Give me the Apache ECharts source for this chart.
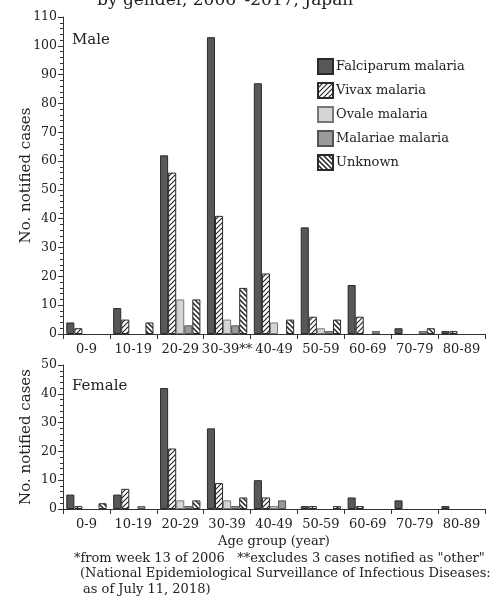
<!DOCTYPE html>
<html><head><meta charset="utf-8">
<script src="https://cdn.jsdelivr.net/npm/echarts@6/dist/echarts.min.js"></script>
<style>html,body{margin:0;padding:0;background:#fff}#c{width:496px;height:603px}</style>
</head><body><div id="c"></div>
<script>
const categories = ['0-9','10-19','20-29','30-39','40-49','50-59','60-69','70-79','80-89'];
const maleTickLabels = ['0-9','10-19','20-29','30-39**','40-49','50-59','60-69','70-79','80-89'];
const femaleTickLabels = ['0-9','10-19','20-29','30-39','40-49','50-59','60-69','70-79','80-89'];
const seriesNames = ['Falciparum malaria','Vivax malaria','Ovale malaria','Malariae malaria','Unknown'];

const maleFalciparum = [4, 9, 62, 103, 87, 37, 17, 2, 1];
const maleVivax      = [2, 5, 56, 41, 21, 6, 6, 0, 1];
const maleOvale      = [0, 0, 12, 5, 4, 2, 0, 0, 0];
const maleMalariae   = [0, 0, 3, 3, 0, 1, 1, 1, 0];
const maleUnknown    = [0, 4, 12, 16, 5, 5, 0, 2, 0];

const femaleFalciparum = [5, 5, 42, 28, 10, 1, 4, 3, 1];
const femaleVivax      = [1, 7, 21, 9, 4, 1, 1, 0, 0];
const femaleOvale      = [0, 0, 3, 3, 1, 0, 0, 0, 0];
const femaleMalariae   = [0, 1, 1, 1, 3, 0, 0, 0, 0];
const femaleUnknown    = [2, 0, 3, 4, 0, 1, 0, 0, 0];

const maleYTicks = {min: 0, max: 110, interval: 10};
const femaleYTicks = {min: 0, max: 50, interval: 10};

const FONT = 'DejaVu Serif';
const TXT = '#222';

function hatch(back, lw) {
  const s = 5;
  const c = document.createElement('canvas');
  c.width = s; c.height = s;
  const g = c.getContext('2d');
  g.fillStyle = '#fff'; g.fillRect(0,0,s,s);
  g.strokeStyle = '#222'; g.lineWidth = lw;
  g.beginPath();
  if (!back) {
    g.moveTo(-1, s+1); g.lineTo(s+1, -1);
    g.moveTo(-1, 1); g.lineTo(1, -1);
    g.moveTo(s-1, s+1); g.lineTo(s+1, s-1);
  } else {
    g.moveTo(-1, -1); g.lineTo(s+1, s+1);
    g.moveTo(s-1, -1); g.lineTo(s+1, 1);
    g.moveTo(-1, s-1); g.lineTo(1, s+1);
  }
  g.stroke();
  return {image: c, repeat: 'repeat'};
}

const styles = [
  {color: '#58585a', borderColor: '#2a2a2a', borderWidth: 1},
  {color: hatch(false, 1.1), borderColor: '#2a2a2a', borderWidth: 1},
  {color: '#d5d5d5', borderColor: '#777', borderWidth: 1},
  {color: '#9a9a9a', borderColor: '#555', borderWidth: 1},
  {color: hatch(true, 1.5), borderColor: '#2a2a2a', borderWidth: 1}
];

const maleData = [maleFalciparum, maleVivax, maleOvale, maleMalariae, maleUnknown];
const femaleData = [femaleFalciparum, femaleVivax, femaleOvale, femaleMalariae, femaleUnknown];
const noZero = arr => arr.map(v => (v === 0 ? null : v));

const series = [];
seriesNames.forEach((n, i) => {
  series.push({name: n, type: 'bar', xAxisIndex: 0, yAxisIndex: 0, data: noZero(maleData[i]),
    barGap: '0%', barCategoryGap: '14%', itemStyle: styles[i], silent: true});
});
seriesNames.forEach((n, i) => {
  series.push({name: n, type: 'bar', xAxisIndex: 1, yAxisIndex: 1, data: noZero(femaleData[i]),
    barGap: '0%', barCategoryGap: '14%', itemStyle: styles[i], silent: true});
});

const axisLine = {show: true, lineStyle: {color: '#333', width: 1}};
function xAxis(grid, labels, extra) {
  return Object.assign({
    type: 'category', gridIndex: grid, data: labels, boundaryGap: true,
    axisLine: axisLine,
    axisTick: {show: true, alignWithLabel: false, length: 5, lineStyle: {color: '#333'}},
    axisLabel: {color: TXT, fontFamily: FONT, fontSize: 13, margin: 9, interval: 0},
    splitLine: {show: false}
  }, extra || {});
}
function yAxis(grid, t) {
  return {
    type: 'value', gridIndex: grid, min: t.min, max: t.max, interval: t.interval,
    name: 'No. notified cases', nameLocation: 'middle', nameGap: 29, nameMoveOverlap: false,
    nameTextStyle: {color: TXT, fontFamily: FONT, fontSize: 15},
    axisLine: axisLine,
    axisTick: {show: true, length: 5, lineStyle: {color: '#333'}},
    minorTick: {show: true, splitNumber: 5, length: 3, lineStyle: {color: '#333'}},
    axisLabel: {color: TXT, fontFamily: FONT, fontSize: 12.5, margin: 6},
    splitLine: {show: false}
  };
}

const option = {
  animation: false,
  backgroundColor: '#fff',
  grid: [
    {left: 63, width: 422, top: 17, height: 317},
    {left: 63, width: 422, top: 365, height: 144}
  ],
  xAxis: [
    xAxis(0, maleTickLabels),
    xAxis(1, femaleTickLabels, {name: 'Age group (year)', nameLocation: 'middle', nameGap: 26,
      nameTextStyle: {color: TXT, fontFamily: FONT, fontSize: 13}})
  ],
  yAxis: [yAxis(0, maleYTicks), yAxis(1, femaleYTicks)],
  legend: {
    data: seriesNames, orient: 'vertical', left: 312, top: 53,
    icon: 'rect', itemWidth: 15, itemHeight: 15, itemGap: 7,
    selectedMode: false,
    textStyle: {color: TXT, fontFamily: FONT, fontSize: 13, padding: [0,0,0,-2]}
  },
  graphic: [
    {type: 'text', left: 97, top: -8, style: {text: 'by gender, 2006*-2017, Japan', font: '17px "DejaVu Serif"', fill: TXT}},
    {type: 'text', left: 72, top: 33, style: {text: 'Male', font: '15px "DejaVu Serif"', fill: TXT}},
    {type: 'text', left: 72, top: 379, style: {text: 'Female', font: '15px "DejaVu Serif"', fill: TXT}},
    {type: 'text', left: 74, top: 552, style: {text: '*from week 13 of 2006   **excludes 3 cases notified as "other"', font: '13px "DejaVu Serif"', fill: TXT}},
    {type: 'text', left: 80, top: 567, style: {text: '(National Epidemiological Surveillance of Infectious Diseases:', font: '13px "DejaVu Serif"', fill: TXT}},
    {type: 'text', left: 83, top: 583, style: {text: 'as of July 11, 2018)', font: '13px "DejaVu Serif"', fill: TXT}}
  ],
  series: series
};

const chart = echarts.init(document.getElementById('c'), null, {renderer: 'canvas'});
chart.setOption(option);
</script>
</body></html>
